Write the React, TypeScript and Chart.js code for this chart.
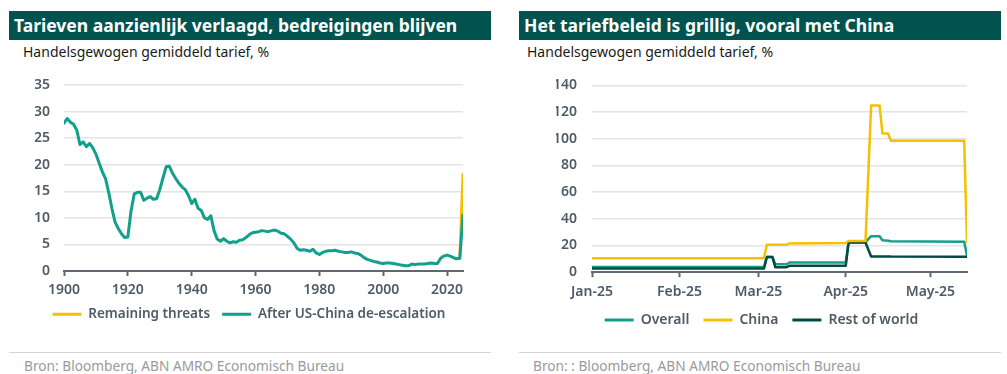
import React, { useEffect, useRef } from "react";
import { Chart, registerables } from "chart.js";

Chart.register(...registerables);

const FONT = "'Noto Sans', 'DejaVu Sans', sans-serif";
const TEAL = "#12a08c";
const YELLOW = "#f5c000";
const DARK = "#004b44";
const TITLE_BG = "#00534e";
const AXIS_TEXT = "#4f5b66";
const GRID = "#e4e4e4";
const AXIS_LINE = "#5d6872";

// ---- Left chart: trade-weighted average tariff since 1900 ----
const historyStartYear = 1900;
const historyValues = [
  27.8, 28.7, 28.0, 27.6, 26.5, 23.8, 24.3, 23.4, 24.0, 23.2,
  22.0, 20.3, 18.7, 17.4, 14.8, 11.8, 9.2, 8.0, 7.0, 6.3,
  6.4, 11.3, 14.5, 14.8, 14.8, 13.3, 13.7, 14.0, 13.5, 13.6,
  15.3, 17.5, 19.6, 19.7, 18.4, 17.4, 16.5, 15.8, 15.3, 14.2,
  12.7, 13.5, 11.8, 11.4, 10.0, 9.7, 10.4, 7.6, 6.0, 5.6,
  6.1, 5.6, 5.3, 5.5, 5.4, 5.8, 5.9, 6.3, 6.8, 7.2,
  7.3, 7.4, 7.6, 7.5, 7.4, 7.6, 7.7, 7.5, 7.1, 7.0,
  6.5, 6.0, 5.3, 4.3, 3.9, 4.0, 3.9, 3.7, 4.1, 3.4,
  3.1, 3.5, 3.7, 3.8, 3.8, 3.9, 3.7, 3.6, 3.5, 3.5,
  3.6, 3.4, 3.3, 3.0, 2.5, 2.2, 2.0, 1.8, 1.7, 1.5,
  1.4, 1.5, 1.5, 1.4, 1.3, 1.2, 1.1, 1.0, 1.0, 1.3,
  1.2, 1.3, 1.3, 1.3, 1.4, 1.5, 1.4, 1.4, 2.4, 2.8,
  3.0, 2.8, 2.5, 2.3, 2.4, 10.5,
];
const threatYears = [2024, 2025];
const threatValues = [2.4, 18.2];
const historyTicks = [1900, 1920, 1940, 1960, 1980, 2000, 2020];
const historySeriesLabels = ["Remaining threats", "After US-China de-escalation"];

// ---- Right chart: 2025 tariff path ----
const tariffDates = [
  "2025-01-01", "2025-03-03", "2025-03-04", "2025-03-06", "2025-03-07",
  "2025-03-11", "2025-03-12", "2025-04-01", "2025-04-02", "2025-04-08",
  "2025-04-10", "2025-04-13", "2025-04-14", "2025-04-16", "2025-04-17",
  "2025-05-13", "2025-05-14",
];
const overallValues = [3.9, 3.9, 11.3, 11.3, 6.0, 6.0, 7.3, 7.3, 22.5, 22.5, 27.0, 27.0, 24.0, 23.6, 23.2, 22.9, 12.5];
const chinaValues = [10.5, 10.5, 20.5, 20.5, 20.6, 20.6, 21.6, 21.8, 23.4, 23.4, 125, 125, 104, 104, 98.5, 98.5, 22.5];
const restValues = [2.8, 2.8, 11.3, 11.3, 3.8, 3.8, 4.8, 4.8, 22.3, 22.3, 11.8, 11.8, 11.8, 11.8, 11.7, 11.5, 11.5];
const monthStarts = ["2025-01-01", "2025-02-01", "2025-03-01", "2025-04-01", "2025-05-01"];
const monthLabels = ["Jan-25", "Feb-25", "Mar-25", "Apr-25", "May-25"];
const tariffSeriesLabels = ["Overall", "China", "Rest of world"];

const dayOf = (s: string) =>
  (Date.UTC(+s.slice(0, 4), +s.slice(5, 7) - 1, +s.slice(8, 10)) - Date.UTC(2025, 0, 1)) / 864e5;

const tickFont = { family: FONT, size: 14, weight: "600" as const };

function baseOptions(p: {
  padLeft: number; padRight: number; padTop: number; padBottom: number;
  yWidth: number; xHeight: number;
  xMin: number; xMax: number; xTicks: number[]; xLabel: (v: number) => string;
  yMax: number; yStep: number; yPad: number; legendPad: number; legendSize: number;
}) {
  return {
    responsive: false,
    animation: false,
    devicePixelRatio: 1,
    layout: { padding: { left: p.padLeft, right: p.padRight, top: p.padTop, bottom: p.padBottom } },
    elements: { line: { tension: 0, borderJoinStyle: "round", borderCapStyle: "round" }, point: { radius: 0 } },
    plugins: {
      legend: {
        position: "bottom",
        labels: {
          boxWidth: 29,
          boxHeight: 3,
          padding: p.legendPad,
          color: AXIS_TEXT,
          font: { family: FONT, size: p.legendSize, weight: "600" },
          generateLabels: (chart: any) =>
            Chart.defaults.plugins.legend.labels
              .generateLabels(chart)
              .map((l: any) => ({ ...l, lineWidth: 0 }))
              .sort((a: any, b: any) => a.datasetIndex - b.datasetIndex),
        },
      },
      tooltip: { enabled: false },
    },
    scales: {
      x: {
        type: "linear",
        min: p.xMin,
        max: p.xMax,
        afterBuildTicks: (s: any) => {
          s.ticks = p.xTicks.map((v) => ({ value: v }));
        },
        afterFit: (s: any) => {
          s.height = p.xHeight;
        },
        ticks: {
          callback: (v: any) => p.xLabel(Number(v)),
          color: AXIS_TEXT,
          font: tickFont,
          padding: 6,
          maxRotation: 0,
          autoSkip: false,
        },
        grid: { drawOnChartArea: false, drawTicks: true, tickLength: 5, tickColor: AXIS_LINE, tickWidth: 2 },
        border: { display: true, color: AXIS_LINE, width: 2 },
      },
      y: {
        min: 0,
        max: p.yMax,
        afterFit: (s: any) => {
          s.width = p.yWidth;
        },
        ticks: { stepSize: p.yStep, color: AXIS_TEXT, font: tickFont, padding: p.yPad },
        grid: {
          color: (ctx: any) => (ctx.tick && ctx.tick.value === 0 ? "rgba(0,0,0,0)" : GRID),
          lineWidth: 1.5,
          drawTicks: false,
        },
        border: { display: false },
      },
    },
  };
}

function historyConfig(): any {
  const history = historyValues.map((v, i) => ({ x: historyStartYear + i, y: v }));
  const threats = threatYears.map((x, i) => ({ x, y: threatValues[i] }));
  return {
    type: "line",
    data: {
      datasets: [
        { label: historySeriesLabels[0], data: threats, borderColor: YELLOW, backgroundColor: YELLOW, borderWidth: 3, pointRadius: 0, order: 1 },
        { label: historySeriesLabels[1], data: history, borderColor: TEAL, backgroundColor: TEAL, borderWidth: 3, pointRadius: 0, order: 0 },
      ],
    },
    options: baseOptions({
      padLeft: 26, padRight: 28, padTop: 23, padBottom: 0,
      yWidth: 29, xHeight: 24.5,
      xMin: 1900, xMax: 2025, xTicks: historyTicks, xLabel: (v) => String(v),
      yMax: 35, yStep: 5, yPad: 14, legendPad: 12, legendSize: 13.5,
    }),
  };
}

function tariffConfig(): any {
  const days = tariffDates.map(dayOf);
  const mk = (vals: number[]) => vals.map((v, i) => ({ x: days[i], y: v }));
  const monthDays = monthStarts.map(dayOf);
  return {
    type: "line",
    data: {
      datasets: [
        { label: tariffSeriesLabels[0], data: mk(overallValues), borderColor: TEAL, backgroundColor: TEAL, borderWidth: 2.5, pointRadius: 0, order: 2 },
        { label: tariffSeriesLabels[1], data: mk(chinaValues), borderColor: YELLOW, backgroundColor: YELLOW, borderWidth: 2.5, pointRadius: 0, order: 0 },
        { label: tariffSeriesLabels[2], data: mk(restValues), borderColor: DARK, backgroundColor: DARK, borderWidth: 2.5, pointRadius: 0, order: 1 },
      ],
    },
    options: baseOptions({
      padLeft: 37, padRight: 34, padTop: 23, padBottom: 0,
      yWidth: 36, xHeight: 26.8,
      xMin: 0, xMax: 133, xTicks: monthDays,
      xLabel: (v) => {
        const i = monthDays.indexOf(v);
        return i >= 0 ? monthLabels[i] : "";
      },
      yMax: 140, yStep: 20, yPad: 15, legendPad: 14, legendSize: 14,
    }),
  };
}

function ChartCanvas(props: { left: number; top: number; width: number; height: number; make: () => any }) {
  const ref = useRef<HTMLCanvasElement>(null);
  useEffect(() => {
    const chart = new Chart(ref.current as HTMLCanvasElement, props.make());
    return () => chart.destroy();
  }, []);
  return (
    <canvas
      ref={ref}
      width={props.width}
      height={props.height}
      style={{ position: "absolute", left: props.left, top: props.top, width: props.width, height: props.height }}
    />
  );
}

function Panel(props: {
  x: number; title: string; subtitle: string; source: string; make: () => any; height: number; textLeft: number; subLeft: number; srcLeft: number;
}) {
  const { x } = props;
  return (
    <>
      <div
        style={{
          position: "absolute", left: x, top: 11, width: 482, height: 29, background: TITLE_BG,
          color: "#fff", fontFamily: FONT, fontWeight: 700, fontSize: 17.5, lineHeight: "29px",
          boxSizing: "border-box", paddingLeft: props.textLeft - x, whiteSpace: "nowrap",
        }}
      >
        {props.title}
      </div>
      <div
        style={{
          position: "absolute", left: props.subLeft, top: 43, fontFamily: FONT, fontSize: 14,
          color: "#1a1a1a", lineHeight: "18px", whiteSpace: "nowrap",
        }}
      >
        {props.subtitle}
      </div>
      <ChartCanvas left={x} top={62} width={482} height={props.height} make={props.make} />
      <div style={{ position: "absolute", left: x, top: 352, width: 482, height: 1, background: "#d4d4d4" }} />
      <div
        style={{
          position: "absolute", left: props.srcLeft, top: 357, fontFamily: FONT, fontSize: 13.7,
          color: "#9a9a9a", lineHeight: "17px", whiteSpace: "nowrap",
        }}
      >
        {props.source}
      </div>
    </>
  );
}

export default function App() {
  return (
    <div style={{ position: "absolute", left: 0, top: 0, width: 1007, height: 374, background: "#fff", overflow: "hidden" }}>
      <Panel
        x={9}
        textLeft={14}
        subLeft={23}
        srcLeft={24}
        title="Tarieven aanzienlijk verlaagd, bedreigingen blijven"
        subtitle="Handelsgewogen gemiddeld tarief, %"
        source="Bron: Bloomberg, ABN AMRO Economisch Bureau"
        make={historyConfig}
        height={269}
      />
      <Panel
        x={519}
        textLeft={524}
        subLeft={527}
        srcLeft={533}
        title="Het tariefbeleid is grillig, vooral met China"
        subtitle="Handelsgewogen gemiddeld tarief, %"
        source="Bron: : Bloomberg, ABN AMRO Economisch Bureau"
        make={tariffConfig}
        height={275}
      />
    </div>
  );
}
